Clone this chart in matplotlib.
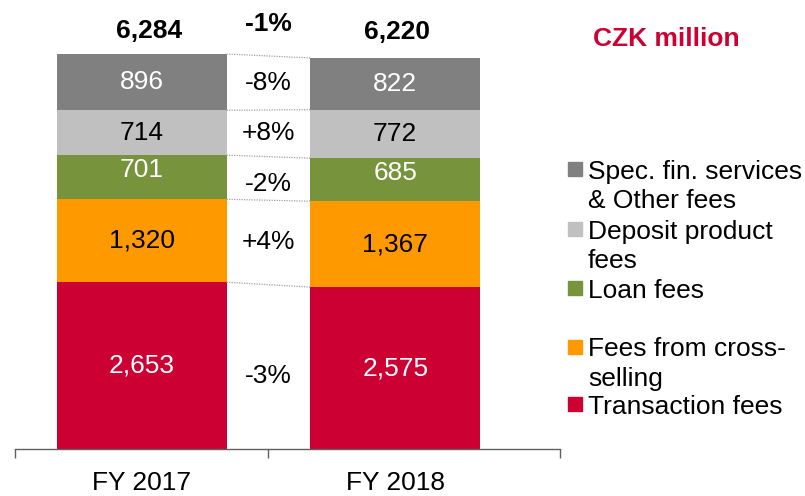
import numpy as np
import matplotlib
matplotlib.use('Agg')
import matplotlib.pyplot as plt
from matplotlib.patches import Rectangle

plt.rcParams['font.family'] = ['Liberation Sans', 'DejaVu Sans']

# data
categories = ['FY 2017', 'FY 2018']
series_names = ['Transaction fees', 'Fees from cross-\nselling', 'Loan fees',
                'Deposit product\nfees', 'Spec. fin. services\n& Other fees']
fy2017 = [2653, 1320, 701, 714, 896]
fy2018 = [2575, 1367, 685, 772, 822]
totals = [6284, 6220]
changes = ['-3%', '+4%', '-2%', '+8%', '-8%']
total_change = '-1%'

colors = ['#CC0033', '#FF9900', '#77933C', '#C0C0C0', '#808080']
label_colors = ['white', 'black', 'white', 'black', 'white']
label_shift = [0, 0, 5, 0, 0]        # points, upward shift of value labels
change_shift = [6.5, 0, 4, 0, 0]     # points, downward shift of change labels
total_dx = [5, 1]                    # points, horizontal shift of totals
FS = 19

fig = plt.figure(figsize=(8.05, 4.96), dpi=100)
ax = fig.add_axes([15/805, 47/496, 545/805, 449/496])

x = np.arange(len(categories))
w = 0.669
data = np.array([fy2017, fy2018])
bottoms = np.zeros(len(categories))
for i in range(len(series_names)):
    vals = data[:, i]
    ax.bar(x, vals, w, bottom=bottoms, color=colors[i], linewidth=0)
    for j in range(len(categories)):
        ax.annotate(f'{vals[j]:,}', (x[j], bottoms[j] + vals[j]/2),
                    xytext=(0, label_shift[i]), textcoords='offset points',
                    ha='center', va='center', fontsize=FS, color=label_colors[i])
    # change label between bars
    mid = (bottoms[0] + vals[0]/2 + bottoms[1] + vals[1]/2) / 2
    ax.annotate(changes[i], (0.5, mid), xytext=(0, -change_shift[i]),
                textcoords='offset points', ha='center', va='center', fontsize=FS)
    bottoms = bottoms + vals
    # dotted connectors on top of each segment
    ax.plot([x[0] + w/2, x[1] - w/2], [bottoms[0], bottoms[1]],
            color='#A0A0A0', lw=0.9, ls=(0, (1, 1)))

for j in range(len(categories)):
    ax.annotate(f'{totals[j]:,}', (x[j], totals[j]),
                xytext=(total_dx[j], 16.5 + (j * 2.5)),
                textcoords='offset points', ha='center', va='center',
                fontsize=FS, fontweight='bold')
ax.annotate(total_change, (0.5, max(totals)), xytext=(0, 21.5),
            textcoords='offset points', ha='center', va='center',
            fontsize=FS, fontweight='bold')

ax.set_xlim(-0.5, 1.65)
ax.set_ylim(0, 7143)
for s in ['top', 'right', 'left']:
    ax.spines[s].set_visible(False)
ax.spines['bottom'].set_color('#606060')
ax.spines['bottom'].set_linewidth(1.0)
ax.set_yticks([])
ax.set_xticks(x)
ax.set_xticklabels(categories, fontsize=FS)
ax.set_xticks([-0.5, 0.5, 1.65], minor=True)
ax.tick_params(axis='x', which='major', length=0, pad=15.5)
ax.tick_params(axis='x', which='minor', length=6.5, color='#606060', width=1.0)

# title
fig.text(666/805, 1 - 39/496, 'CZK million', color='#CC0033', fontsize=FS,
         fontweight='bold', ha='center', va='center')

# legend drawn by hand, top entry first
legend_y = [169, 229, 288, 347, 404]  # pixel rows of first lines
for k, i in enumerate(reversed(range(len(series_names)))):
    yc = legend_y[k]
    fig.patches.append(Rectangle((568/805, 1 - (yc + 7)/496), 14/805, 14/496,
                                 transform=fig.transFigure, color=colors[i]))
    for n, line in enumerate(series_names[i].split('\n')):
        fig.text(588/805, 1 - (yc + 9.5 + n*29.5)/496, line, fontsize=FS,
                 ha='left', va='baseline')

fig.savefig('out.png', dpi=100)
